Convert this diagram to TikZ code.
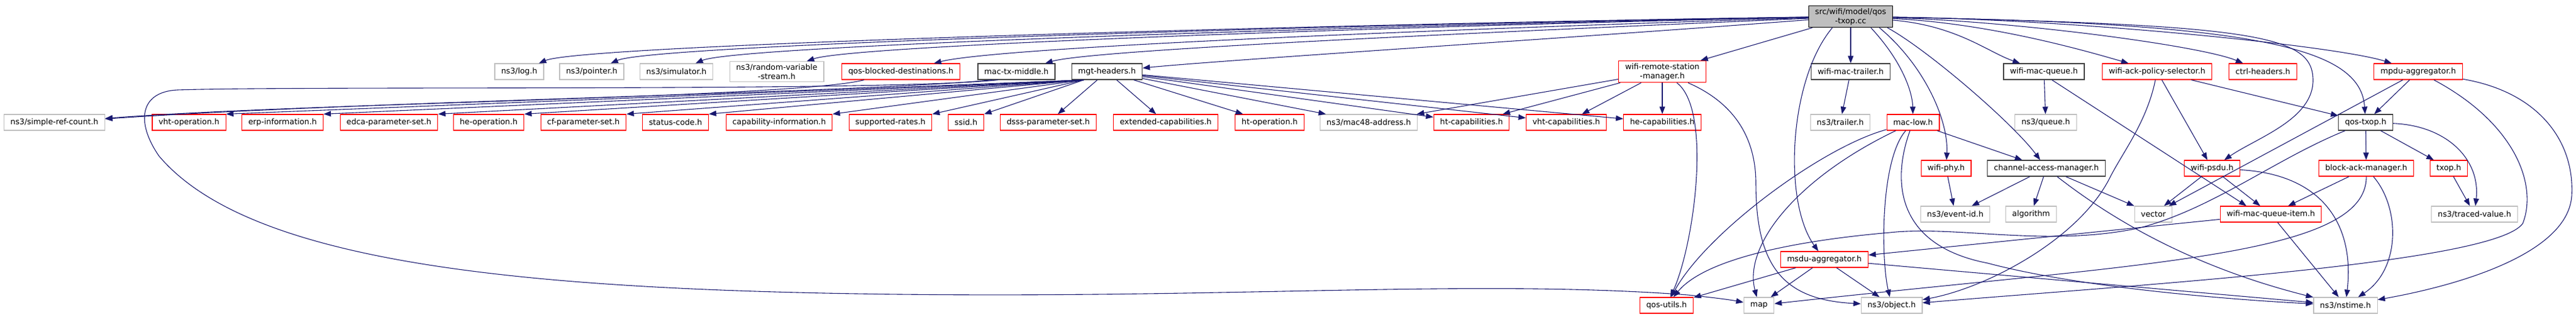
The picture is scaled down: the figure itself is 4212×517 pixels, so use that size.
\documentclass[tikz,border=0pt]{standalone}
\usepackage{fontspec}
\setmainfont{DejaVu Sans}
\usetikzlibrary{arrows.meta}
\definecolor{edgec}{HTML}{191970}
\definecolor{gbord}{HTML}{BFBFBF}
\definecolor{bbord}{HTML}{404040}
\definecolor{rootfill}{HTML}{BFBFBF}
\definecolor{rbord}{HTML}{FF0000}
\newcommand{\nfont}{\fontsize{12.8}{15}\selectfont}
\begin{document}
\begin{tikzpicture}[x=1pt,y=-1pt,
  base/.style={draw, line width=1.2pt, font=\nfont, inner xsep=10.5pt, inner ysep=4pt,
    minimum height=26pt, fill=white, text=black, align=center},
  gnode/.style={base, draw=gbord},
  rnode/.style={base, draw=rbord},
  bnode/.style={base, draw=bbord},
  rootnode/.style={base, draw=black, fill=rootfill},
  edge/.style={draw=edgec, line width=1.1pt, -{Triangle[length=12pt,width=9pt]}}]
\fill[white] (0,0) rectangle (4212,517);
\useasboundingbox (0,0) rectangle (4212,517);
% level 0
\node[rootnode] (root) at (3026,27) {src/wifi/model/qos\\-txop.cc};
% level 1
\node[gnode] (log) at (849,117) {ns3/log.h};
\node[gnode] (pointer) at (967.5,117) {ns3/pointer.h};
\node[gnode] (simulator) at (1106,117) {ns3/simulator.h};
\node[gnode] (rvs) at (1270,117) {ns3/random-variable\\-stream.h};
\node[rnode] (qbd) at (1473,117) {qos-blocked-destinations.h};
\node[bnode] (mtm) at (1662,117) {mac-tx-middle.h};
\node[bnode] (mgt) at (1810,117) {mgt-headers.h};
\node[rnode] (wrsm) at (2718,117) {wifi-remote-station\\-manager.h};
\node[bnode] (wmt) at (3026,117) {wifi-mac-trailer.h};
\node[bnode] (wmq) at (3342,117) {wifi-mac-queue.h};
\node[rnode] (wack) at (3527,117) {wifi-ack-policy-selector.h};
\node[rnode] (ctrl) at (3700,117) {ctrl-headers.h};
\node[rnode] (mpdu) at (3954,117) {mpdu-aggregator.h};
% level 2
\node[gnode] (srefc) at (89,200) {ns3/simple-ref-count.h};
\node[rnode] (vhtop) at (309,200) {vht-operation.h};
\node[rnode] (erp) at (462,200) {erp-information.h};
\node[rnode] (edca) at (636,200) {edca-parameter-set.h};
\node[rnode] (heop) at (799,200) {he-operation.h};
\node[rnode] (cfp) at (954,200) {cf-parameter-set.h};
\node[rnode] (status) at (1104.5,200) {status-code.h};
\node[rnode] (capinfo) at (1274,200) {capability-information.h};
\node[rnode] (suprates) at (1456,200) {supported-rates.h};
\node[rnode] (ssid) at (1579.5,200) {ssid.h};
\node[rnode] (dsss) at (1714,200) {dsss-parameter-set.h};
\node[rnode] (extcap) at (1906,200) {extended-capabilities.h};
\node[rnode] (htop) at (2076,200) {ht-operation.h};
\node[gnode] (mac48) at (2238,200) {ns3/mac48-address.h};
\node[rnode] (htcap) at (2406,200) {ht-capabilities.h};
\node[rnode] (vhtcap) at (2561,200) {vht-capabilities.h};
\node[rnode] (hecap) at (2718,200) {he-capabilities.h};
\node[gnode] (trailer) at (3009,200) {ns3/trailer.h};
\node[rnode] (macLow) at (3128,200) {mac-low.h};
\node[gnode] (queue) at (3345,200) {ns3/queue.h};
\node[bnode] (qosTxop) at (3868,200) {qos-txop.h};
% level 3
\node[rnode] (wifiPhy) at (3182,275) {wifi-phy.h};
\node[bnode] (cam) at (3346,275) {channel-access-manager.h};
\node[rnode] (psdu) at (3617,275) {wifi-psdu.h};
\node[rnode] (bam) at (3869,275) {block-ack-manager.h};
\node[rnode] (txop) at (4004,275) {txop.h};
% level 4
\node[gnode] (eventId) at (3197,350) {ns3/event-id.h};
\node[gnode] (algorithm) at (3321,350) {algorithm};
\node[gnode] (vector) at (3521,350) {vector};
\node[rnode] (wmqi) at (3713,350) {wifi-mac-queue-item.h};
\node[gnode] (traced) at (4046,350) {ns3/traced-value.h};
% level 5
\node[rnode] (msdu) at (2983,424) {msdu-aggregator.h};
% level 6
\node[rnode] (qosUtils) at (2725,499) {qos-utils.h};
\node[gnode] (map) at (2876,499) {map};
\node[gnode] (object) at (3093,499) {ns3/object.h};
\node[gnode] (nstime) at (3835,499) {ns3/nstime.h};

% ---- edges from root
\draw[edge] (root) .. controls (2400,35) and (960,70) .. (log);
\draw[edge] (root) .. controls (2400,36) and (1075,70) .. (pointer);
\draw[edge] (root) .. controls (2400,38) and (1210,72) .. (simulator);
\draw[edge] (root) .. controls (2400,40) and (1400,72) .. (rvs);
\draw[edge] (root) .. controls (2450,45) and (1640,75) .. (qbd);
\draw[edge] (root) .. controls (2500,50) and (1790,80) .. (mtm);
\draw[edge] (root) .. controls (2600,60) and (2000,98) .. (mgt);
\draw[edge] (root) -- (wrsm);
\draw[edge] (root) -- (wmt);
\draw[edge] ([xshift=-30pt]root.south) .. controls (2925,130) and (2915,330) .. (msdu);
\draw[edge] ([xshift=33pt]root.south) .. controls (3110,100) and (3127,150) .. (macLow);
\draw[edge] ([xshift=47pt]root.south) .. controls (3150,110) and (3186,200) .. (wifiPhy);
\draw[edge] ([xshift=60pt]root.south) .. controls (3150,80) and (3290,200) .. (cam);
\draw[edge] (root) .. controls (3200,42) and (3250,85) .. (wmq);
\draw[edge] (root) .. controls (3250,38) and (3400,80) .. (wack);
\draw[edge] (root) .. controls (3300,35) and (3600,75) .. (ctrl);
\draw[edge] (root) .. controls (3400,32) and (3820,75) .. (mpdu);
\draw[edge] (root) .. controls (3700,38) and (3860,80) .. (qosTxop);
\draw[edge] (root) .. controls (3700,40) and (3780,60) .. (3782,130) .. controls (3783,195) and (3690,225) .. (psdu);

% ---- qos-blocked-destinations, mac-tx-middle
\draw[edge] ([xshift=-60pt]qbd.south) .. controls (1300,160) and (500,168) .. (srefc);
\draw[edge] ([xshift=-40pt]mtm.south) .. controls (1400,152) and (600,165) .. (srefc);
\draw[edge] ([xshift=-30pt]mtm.south) .. controls (1450,150) and (500,140) .. (290,147)
  .. controls (228,150) and (222,200) .. (260,255)
  .. controls (400,420) and (800,470) .. (1400,480)
  .. controls (2000,490) and (2400,455) .. (2760,482)
  .. controls (2800,486) and (2830,490) .. (map);

% ---- mgt-headers
\foreach \t in {vhtop,erp,edca,heop,cfp,status,capinfo,suprates,ssid}
  \draw[edge] ([xshift=-38pt]mgt.south) -- (\t.north east);
\foreach \t in {dsss,extcap,htop,mac48,htcap,vhtcap,hecap}
  \draw[edge] (mgt) -- (\t);

% ---- wifi-remote-station-manager
\draw[edge] (wrsm) -- (mac48);
\draw[edge] (wrsm) -- (htcap);
\draw[edge] (wrsm) -- (vhtcap);
\draw[edge] (wrsm) -- (hecap);
\draw[edge] (wrsm) .. controls (2800,180) and (2770,400) .. (qosUtils);
\draw[edge] (wrsm) .. controls (2840,170) and (2871,230) .. (2871,300) .. controls (2871,440) and (2920,490) .. (object);

% ---- wifi-mac-trailer
\draw[edge] (wmt) -- (trailer);

% ---- mac-low
\draw[edge] (macLow) .. controls (2980,240) and (2790,380) .. (qosUtils);
\draw[edge] (macLow) .. controls (2940,290) and (2850,400) .. (map);
\draw[edge] (macLow) .. controls (3075,260) and (3075,420) .. (object);
\draw[edge] (macLow) .. controls (3095,290) and (3095,400) .. (3250,430) .. controls (3400,470) and (3650,490) .. (nstime);
\draw[edge] (macLow) -- (cam);

% ---- wifi-mac-queue
\draw[edge] (wmq) -- (queue);
\draw[edge] ([xshift=13pt]wmq.south) -- ([xshift=-40pt]wmqi.north);

% ---- wifi-ack-policy-selector
\draw[edge] (wack) -- (qosTxop);
\draw[edge] (wack) -- (psdu);
\draw[edge] (wack) .. controls (3510,200) and (3470,250) .. (3450,290) .. controls (3400,390) and (3250,470) .. (object);

% ---- mpdu-aggregator
\draw[edge] (mpdu) -- (qosTxop);
\draw[edge] (mpdu) -- (vector);
\draw[edge] (mpdu) .. controls (4110,200) and (4150,300) .. (4125,365) .. controls (4080,430) and (3500,465) .. (object);
\draw[edge] (mpdu) .. controls (4150,150) and (4210,230) .. (4205,320) .. controls (4198,420) and (4000,470) .. (nstime);

% ---- qos-txop.h
\draw[edge] (qosTxop) -- (bam);
\draw[edge] (qosTxop) -- (txop);
\draw[edge] (qosTxop) .. controls (4000,205) and (4056,260) .. (traced);
\draw[edge] (qosTxop) .. controls (3720,260) and (3620,340) .. (3500,372)
  .. controls (3350,405) and (3200,368) .. (3090,380)
  .. controls (2950,392) and (2790,420) .. (qosUtils);

% ---- wifi-psdu
\draw[edge] (psdu) -- (vector);
\draw[edge] (psdu) -- (wmqi);
\draw[edge] (psdu) .. controls (3800,285) and (3850,370) .. (nstime);

% ---- block-ack-manager
\draw[edge] (bam) -- (wmqi);
\draw[edge] (bam) .. controls (3870,420) and (3500,430) .. (map);
\draw[edge] (bam) .. controls (3925,340) and (3925,440) .. (nstime);

% ---- txop
\draw[edge] (txop) -- (traced);

% ---- channel-access-manager
\draw[edge] (cam) -- (eventId);
\draw[edge] (cam) -- (algorithm);
\draw[edge] (cam) -- (vector);
\draw[edge] (cam) .. controls (3430,340) and (3560,430) .. (nstime);

% ---- wifi-phy
\draw[edge] (wifiPhy) -- (eventId);

% ---- wifi-mac-queue-item
\draw[edge] (wmqi) -- (msdu);
\draw[edge] (wmqi) -- (nstime);

% ---- msdu-aggregator
\draw[edge] (msdu) -- (qosUtils);
\draw[edge] (msdu) -- (map);
\draw[edge] (msdu) -- (object);
\draw[edge] (msdu) -- (nstime);
\end{tikzpicture}
\end{document}
